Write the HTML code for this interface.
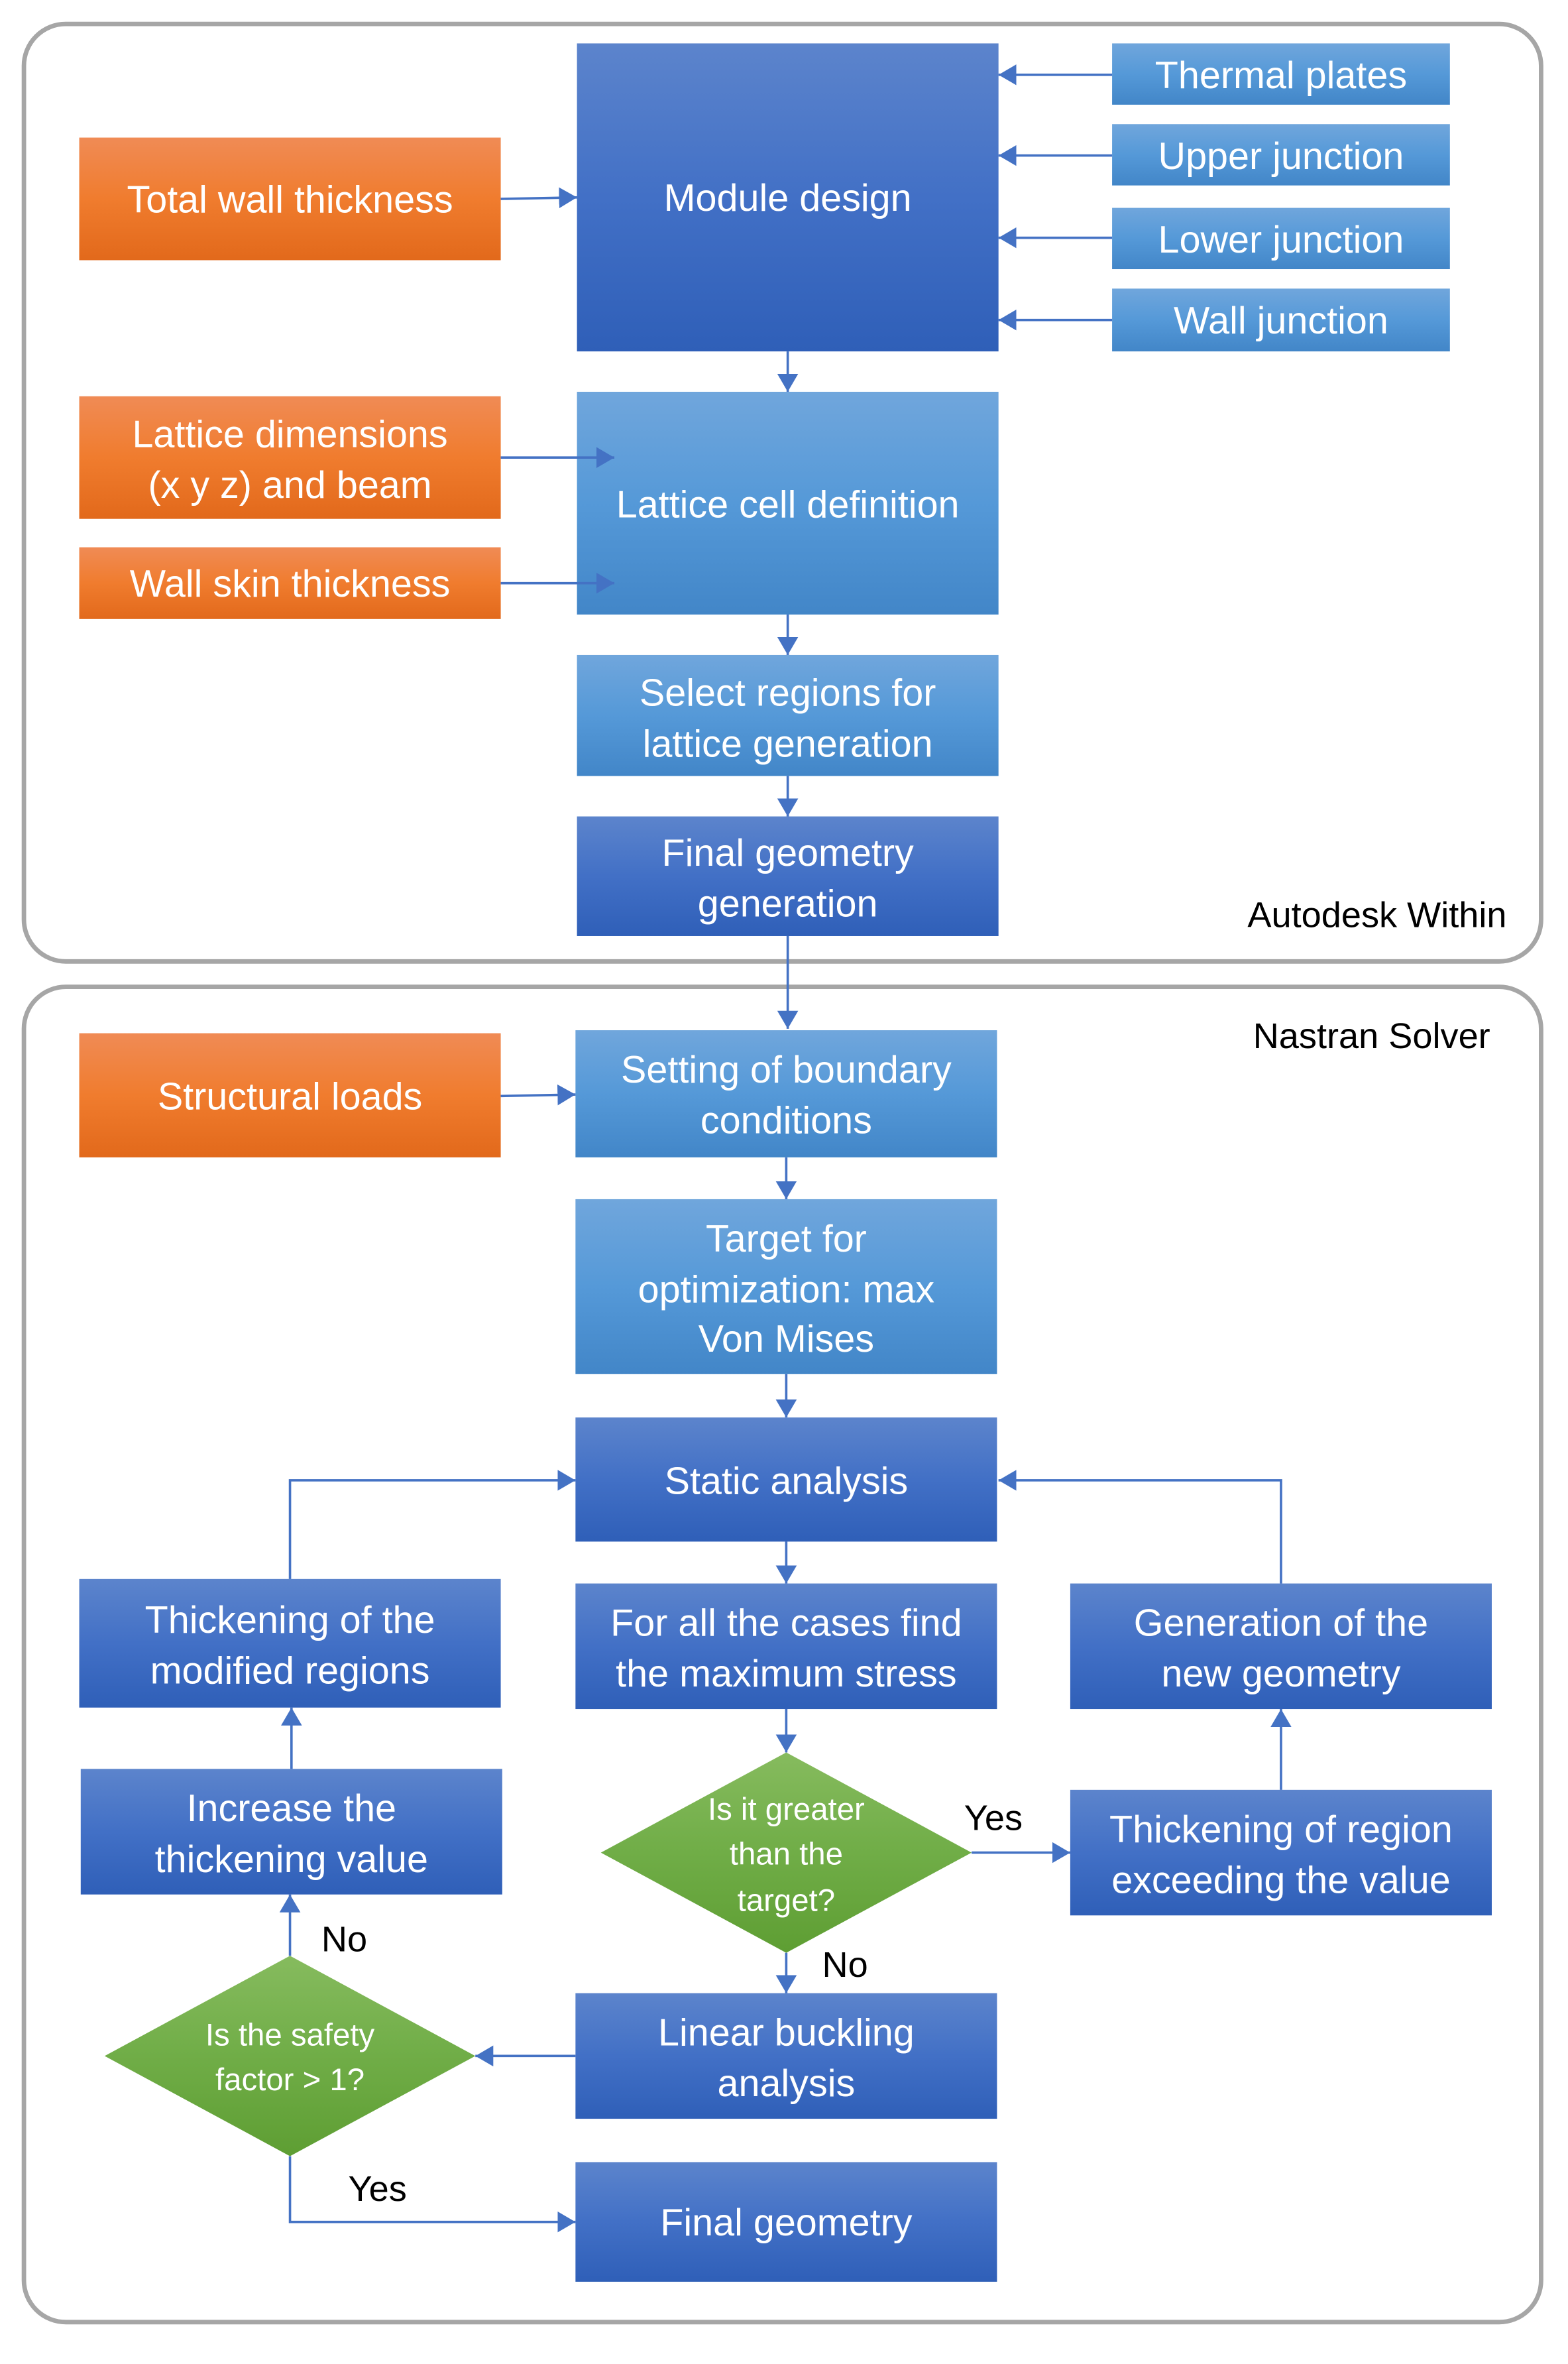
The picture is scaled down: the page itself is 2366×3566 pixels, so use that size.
<!DOCTYPE html>
<html><head><meta charset="utf-8"><style>
html,body{margin:0;padding:0;background:#fff;}
svg{display:block;}
text{font-family:"Liberation Sans",sans-serif;}
</style></head><body>
<svg width="2366" height="3566" viewBox="0 0 1049 1581" xmlns="http://www.w3.org/2000/svg">
<defs>
<linearGradient id="dk" x1="0" y1="0" x2="0" y2="1"><stop offset="0" stop-color="#5c84cc"/><stop offset="0.5" stop-color="#4270c6"/><stop offset="1" stop-color="#2f5fb8"/></linearGradient>
<linearGradient id="lt" x1="0" y1="0" x2="0" y2="1"><stop offset="0" stop-color="#70a6dc"/><stop offset="0.5" stop-color="#5599d8"/><stop offset="1" stop-color="#4286c8"/></linearGradient>
<linearGradient id="or" x1="0" y1="0" x2="0" y2="1"><stop offset="0" stop-color="#f08b55"/><stop offset="0.5" stop-color="#f07c2e"/><stop offset="1" stop-color="#e2691b"/></linearGradient>
<linearGradient id="gr" x1="0" y1="0" x2="0" y2="1"><stop offset="0" stop-color="#86bb5e"/><stop offset="0.5" stop-color="#70ad47"/><stop offset="1" stop-color="#5e9e33"/></linearGradient>
<marker id="a" viewBox="0 0 12 14" refX="12" refY="7" markerWidth="12" markerHeight="14" markerUnits="userSpaceOnUse" orient="auto"><path d="M0,0 L12,7 L0,14 z" fill="#4472c4"/></marker>
</defs>
<rect x="16" y="16" width="1015" height="627" rx="28" fill="none" stroke="#a6a6a6" stroke-width="3"/>
<rect x="16" y="660" width="1015" height="893" rx="28" fill="none" stroke="#a6a6a6" stroke-width="3"/>

<g fill="url(#dk)">
<rect x="386" y="29" width="282" height="206"/>
<rect x="386" y="546" width="282" height="80"/>
<rect x="385" y="948" width="282" height="83"/>
<rect x="53" y="1056" width="282" height="86"/>
<rect x="385" y="1059" width="282" height="84"/>
<rect x="716" y="1059" width="282" height="84"/>
<rect x="54" y="1183" width="282" height="84"/>
<rect x="716" y="1197" width="282" height="84"/>
<rect x="385" y="1333" width="282" height="84"/>
<rect x="385" y="1446" width="282" height="80"/>
</g>
<g fill="url(#lt)">
<rect x="744" y="29" width="226" height="41"/>
<rect x="744" y="83" width="226" height="41"/>
<rect x="744" y="139" width="226" height="41"/>
<rect x="744" y="193" width="226" height="42"/>
<rect x="386" y="262" width="282" height="149"/>
<rect x="386" y="438" width="282" height="81"/>
<rect x="385" y="689" width="282" height="85"/>
<rect x="385" y="802" width="282" height="117"/>
</g>
<g fill="url(#or)">
<rect x="53" y="92" width="282" height="82"/>
<rect x="53" y="265" width="282" height="82"/>
<rect x="53" y="366" width="282" height="48"/>
<rect x="53" y="691" width="282" height="83"/>
</g>
<g fill="url(#gr)">
<path d="M526,1172 L650,1239 L526,1306 L402,1239 z"/>
<path d="M194,1308 L318,1375 L194,1442 L70,1375 z"/>
</g>

<g stroke="#4472c4" stroke-width="1.6" fill="none" marker-end="url(#a)">
<path d="M335,133 L386,132"/>
<path d="M744,50 L668,50"/>
<path d="M744,104 L668,104"/>
<path d="M744,159 L668,159"/>
<path d="M744,214 L668,214"/>
<path d="M527,235 L527,262"/>
<path d="M335,306 L411,306"/>
<path d="M335,390 L411,390"/>
<path d="M527,411 L527,438"/>
<path d="M527,519 L527,546"/>
<path d="M527,626 L527,688"/>
<path d="M335,733 L385,732"/>
<path d="M526,774 L526,802"/>
<path d="M526,919 L526,948"/>
<path d="M526,1031 L526,1059"/>
<path d="M526,1143 L526,1172"/>
<path d="M526,1306 L526,1333"/>
<path d="M650,1239 L716,1239"/>
<path d="M857,1197 L857,1143"/>
<path d="M857,1059 L857,990 L668,990"/>
<path d="M194,1056 L194,990 L385,990"/>
<path d="M195,1183 L195,1142"/>
<path d="M194,1308 L194,1267"/>
<path d="M385,1375 L318,1375"/>
<path d="M194,1442 L194,1486 L385,1486"/>
</g>

<g fill="#fff" font-size="25.5" text-anchor="middle">
<text x="527" y="141">Module design</text>
<text x="857" y="59">Thermal plates</text>
<text x="857" y="113">Upper junction</text>
<text x="857" y="169">Lower junction</text>
<text x="857" y="223">Wall junction</text>
<text x="194" y="142">Total wall thickness</text>
<text x="194" y="299">Lattice dimensions</text>
<text x="194" y="333">(x y z) and beam</text>
<text x="194" y="399">Wall skin thickness</text>
<text x="527" y="346">Lattice cell definition</text>
<text x="527" y="472">Select regions for</text>
<text x="527" y="506">lattice generation</text>
<text x="527" y="579">Final geometry</text>
<text x="527" y="613">generation</text>
<text x="194" y="742">Structural loads</text>
<text x="526" y="724">Setting of boundary</text>
<text x="526" y="758">conditions</text>
<text x="526" y="837">Target for</text>
<text x="526" y="871">optimization: max</text>
<text x="526" y="904">Von Mises</text>
<text x="526" y="999">Static analysis</text>
<text x="194" y="1092">Thickening of the</text>
<text x="194" y="1126">modified regions</text>
<text x="526" y="1094">For all the cases find</text>
<text x="526" y="1128">the maximum stress</text>
<text x="857" y="1094">Generation of the</text>
<text x="857" y="1128">new geometry</text>
<text x="195" y="1218">Increase the</text>
<text x="195" y="1252">thickening value</text>
<text x="857" y="1232">Thickening of region</text>
<text x="857" y="1266">exceeding the value</text>
<text x="526" y="1368">Linear buckling</text>
<text x="526" y="1402">analysis</text>
<text x="526" y="1495">Final geometry</text>
</g>
<g fill="#fff" font-size="21" text-anchor="middle">
<text x="526" y="1217">Is it greater</text>
<text x="526" y="1247">than the</text>
<text x="526" y="1278">target?</text>
<text x="194" y="1368">Is the safety</text>
<text x="194" y="1398">factor &gt; 1?</text>
</g>
<g fill="#000" font-size="24">
<text x="1008" y="620" text-anchor="end">Autodesk Within</text>
<text x="997" y="701" text-anchor="end">Nastran Solver</text>
<text x="645" y="1224">Yes</text>
<text x="550" y="1322">No</text>
<text x="215" y="1305">No</text>
<text x="233" y="1472">Yes</text>
</g>
</svg>
</body></html>
